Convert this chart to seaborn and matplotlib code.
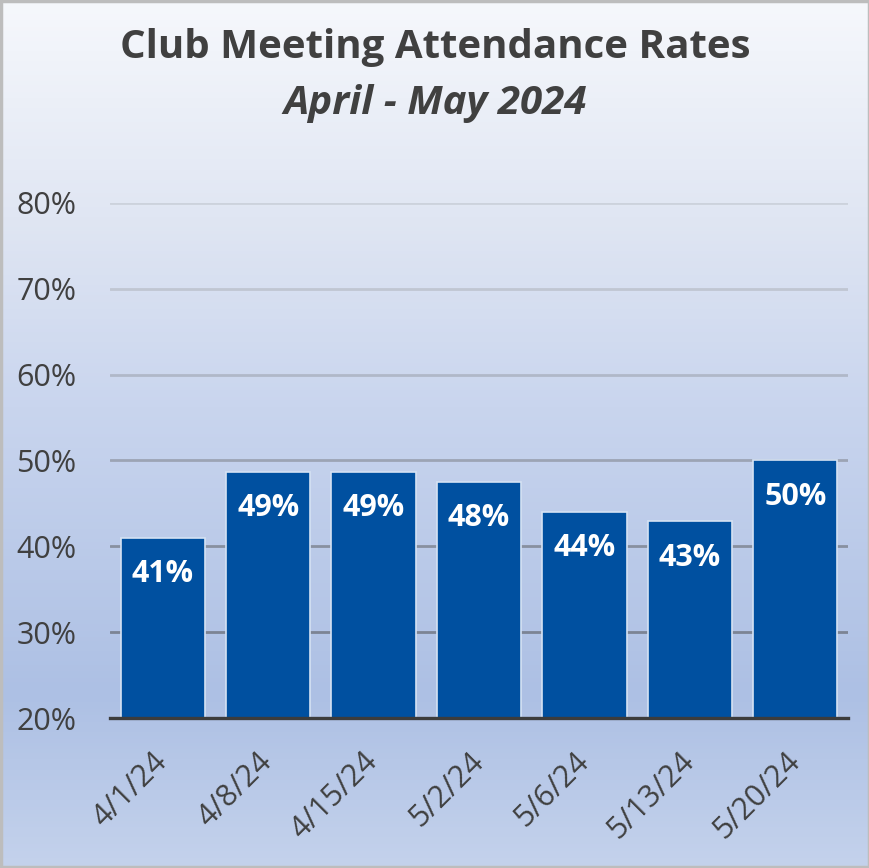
import matplotlib
matplotlib.use("Agg")
import matplotlib.pyplot as plt
from matplotlib.colors import LinearSegmentedColormap
from matplotlib.patches import Rectangle
import seaborn as sns
import numpy as np
import pandas as pd

# chart data
meeting_dates = ["4/1/24", "4/8/24", "4/15/24", "5/2/24", "5/6/24", "5/13/24", "5/20/24"]
attendance_pct = [41.0, 48.7, 48.7, 47.5, 44.0, 42.9, 50.0]
y_ticks = [20, 30, 40, 50, 60, 70, 80]

title_text = "Club Meeting Attendance Rates"
subtitle_text = "April - May 2024"

df = pd.DataFrame({"date": meeting_dates, "pct": attendance_pct})

sns.set_style("white")
plt.rcParams["font.family"] = ["Open Sans", "DejaVu Sans"]

fig = plt.figure(figsize=(8.7, 8.68), dpi=100)

# gradient background
bg = fig.add_axes([0, 0, 1, 1], zorder=-1)
grad_cmap = LinearSegmentedColormap.from_list(
    "bg", [(0.0, "#f6f8fc"), (0.25, "#e0e6f3"), (0.47, "#c9d5ee"),
           (0.8, "#adc0e4"), (1.0, "#c4d2ec")])
bg.imshow(np.linspace(0, 1, 256).reshape(-1, 1), aspect="auto", cmap=grad_cmap,
          extent=[0, 1, 0, 1], origin="upper")
bg.set_axis_off()
fig.patches.append(Rectangle((0.0015, 0.0015), 0.997, 0.997, transform=fig.transFigure,
                             fill=False, edgecolor="#bdbdbd", linewidth=2.5))

ax = fig.add_axes([110 / 870, 150 / 868, 738 / 870, 515 / 868])
ax.set_facecolor("none")

# gridlines darken towards the baseline, like the original
grid_colors = ["#767e90", "#7c8494", "#8890a0", "#9ca4b4", "#b0b8c8", "#c0c6d2", "#ccd2dc"]
for t, c in zip(y_ticks[1:], grid_colors[1:]):
    ax.axhline(t, color=c, linewidth=2, zorder=0)

sns.barplot(data=df, x="date", y="pct", color="#0050a0", saturation=1, width=0.8,
            edgecolor="#d5e2f3", linewidth=1.2, ax=ax, zorder=3)

ax.set_ylim(20, 80)
ax.set_yticks(y_ticks)
ax.set_yticklabels([f"{t}%" for t in y_ticks])

for s in ["top", "right", "left"]:
    ax.spines[s].set_visible(False)
ax.spines["bottom"].set_color("#3c3c3c")
ax.spines["bottom"].set_linewidth(2.4)
ax.spines["bottom"].set_zorder(5)

ax.tick_params(axis="both", length=0, labelsize=22, labelcolor="#404040")
ax.tick_params(axis="y", pad=24)
ax.tick_params(axis="x", pad=28)
for lbl in ax.get_xticklabels():
    lbl.set_rotation(45)
    lbl.set_ha("right")
    lbl.set_va("center")
    lbl.set_rotation_mode("anchor")

ax.set_xlabel("")
ax.set_ylabel("")

# value labels inside bars
for i, v in enumerate(attendance_pct):
    ax.annotate(f"{round(v)}%", (i, v), xytext=(0, -26), textcoords="offset points",
                ha="center", va="center", color="white", fontsize=22,
                fontweight="bold", zorder=6)

fig.text(0.5, 0.945, title_text, ha="center", va="center", fontsize=29,
         fontweight="bold", color="#404040")
fig.text(0.5, 0.881, subtitle_text, ha="center", va="center", fontsize=29,
         fontweight="bold", fontstyle="italic", color="#404040")

fig.savefig("out.png", dpi=100)
